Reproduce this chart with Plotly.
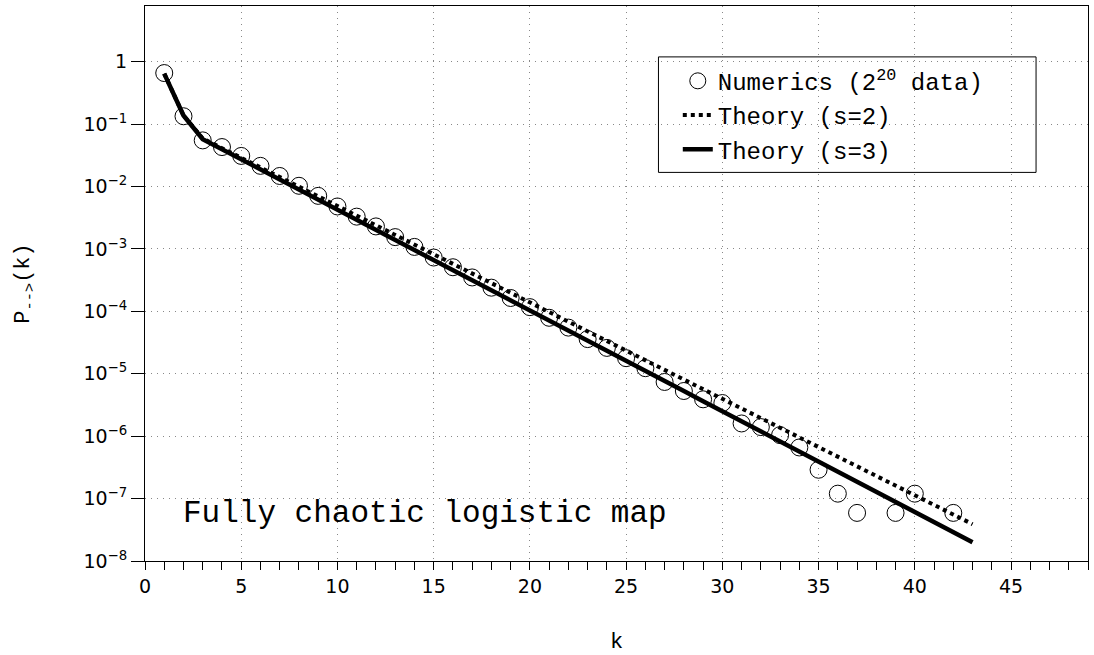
import plotly.graph_objects as go

# ---------------- data ----------------
k_num = [1, 2, 3, 4, 5, 6, 7, 8, 9, 10, 11, 12, 13, 14, 15, 16, 17, 18, 19, 20,
         21, 22, 23, 24, 25, 26, 27, 28, 29, 30, 31, 32, 33, 34, 35, 36, 37, 39, 40, 42]
p_num = [0.66, 0.134, 0.055, 0.043, 0.031, 0.0215, 0.0148, 0.0103, 0.0071, 0.0048,
         0.0033, 0.0023, 0.00155, 0.00108, 7.3e-4, 5.1e-4, 3.5e-4, 2.4e-4, 1.64e-4, 1.17e-4,
         7.9e-5, 5.5e-5, 3.6e-5, 2.6e-5, 1.78e-5, 1.23e-5, 7.4e-6, 5.3e-6, 3.9e-6, 3.4e-6,
         1.6e-6, 1.4e-6, 1.04e-6, 6.6e-7, 2.9e-7, 1.2e-7, 5.9e-8, 5.9e-8, 1.2e-7, 5.9e-8]

k_th = list(range(1, 44))
p_s2 = [0.646, 0.138, 0.0589, 0.04124, 0.02891, 0.02025, 0.01419, 0.00994, 0.00697, 0.00488,
        0.00342, 0.002396, 0.00168, 0.001176, 8.24e-4, 5.77e-4, 4.05e-4, 2.835e-4, 1.99e-4, 1.39e-4,
        9.75e-5, 6.83e-5, 4.79e-5, 3.35e-5, 2.35e-5, 1.646e-5, 1.153e-5, 8.08e-6, 5.66e-6, 3.97e-6,
        2.78e-6, 1.95e-6, 1.365e-6, 9.56e-7, 6.70e-7, 4.69e-7, 3.29e-7, 2.30e-7, 1.61e-7, 1.13e-7,
        7.92e-8, 5.55e-8, 3.89e-8]
p_s3 = [0.646, 0.138, 0.0575, 0.0397, 0.02735, 0.01886, 0.0130, 0.00896, 0.00618, 0.00426,
        0.00294, 0.00203, 0.001396, 9.63e-4, 6.64e-4, 4.58e-4, 3.16e-4, 2.18e-4, 1.50e-4, 1.034e-4,
        7.13e-5, 4.92e-5, 3.39e-5, 2.34e-5, 1.61e-5, 1.11e-5, 7.66e-6, 5.28e-6, 3.64e-6, 2.51e-6,
        1.73e-6, 1.19e-6, 8.22e-7, 5.67e-7, 3.91e-7, 2.69e-7, 1.86e-7, 1.28e-7, 8.83e-8, 6.09e-8,
        4.20e-8, 2.89e-8, 2.0e-8]

x_ticks = [0, 5, 10, 15, 20, 25, 30, 35, 40, 45]
y_tickvals = [1, 1e-1, 1e-2, 1e-3, 1e-4, 1e-5, 1e-6, 1e-7, 1e-8]
y_ticktext = ["1"] + ["10<sup>\u2212%d</sup>" % i for i in range(1, 9)]

MONO = "Liberation Mono"
SANS = "DejaVu Sans"

fig = go.Figure()
fig.add_trace(go.Scatter(
    x=k_num, y=p_num, mode="markers", name="Numerics (2<sup>20</sup> data)",
    marker=dict(symbol="circle-open", size=17, color="black", line=dict(width=1, color="black")),
))
fig.add_trace(go.Scatter(
    x=k_th, y=p_s2, mode="lines", name="Theory (s=2)",
    line=dict(color="black", width=4, dash="4px,4px"),
))
fig.add_trace(go.Scatter(
    x=k_th, y=p_s3, mode="lines", name="Theory (s=3)",
    line=dict(color="black", width=4.5),
))

fig.update_layout(
    width=1094, height=655,
    margin=dict(l=145, r=5, t=5, b=83),
    paper_bgcolor="white", plot_bgcolor="white",
    font=dict(family=MONO, size=22, color="black"),
    showlegend=True,
    legend=dict(
        x=0.565, y=0.905, xanchor="left", yanchor="top",
        bgcolor="rgba(0,0,0,0)", borderwidth=0,
        font=dict(family=MONO, size=24, color="black"),
        itemwidth=30, tracegroupgap=0,
    ),
    shapes=[dict(type="rect", xref="paper", yref="paper",
                 x0=(659 - 145) / 944, x1=(1037 - 145) / 944,
                 y0=(572 - 175) / 567, y1=(572 - 57) / 567,
                 line=dict(color="black", width=1), fillcolor="white", layer="below")],
    annotations=[dict(text="Fully chaotic logistic map", xref="paper", yref="paper",
                      x=36 / 944, y=(572 - 523) / 567, xanchor="left", yanchor="middle",
                      showarrow=False, font=dict(family=MONO, size=31, color="black"))],
)

fig.update_xaxes(
    range=[0, 49], tickvals=x_ticks, ticks="outside", ticklen=8, tickwidth=1, tickcolor="black",
    minor=dict(dtick=1, tick0=0, ticks="outside", ticklen=8, tickwidth=1, tickcolor="black", showgrid=False),
    showline=True, linecolor="black", linewidth=1, mirror=True,
    showgrid=True, gridcolor="#888888", griddash="1px,5px", gridwidth=1,
    zeroline=False,
    tickfont=dict(family=SANS, size=19, color="black"),
    title=dict(text="k", font=dict(family=MONO, size=22), standoff=38),
)
fig.update_yaxes(
    type="log", range=[-8, 0.894], tickvals=y_tickvals, ticktext=y_ticktext,
    ticks="outside", ticklen=13, tickwidth=1, tickcolor="black",
    showline=True, linecolor="black", linewidth=1, mirror=True,
    showgrid=True, gridcolor="#888888", griddash="1px,5px", gridwidth=1,
    zeroline=False,
    tickfont=dict(family=SANS, size=19, color="black"),
    title=dict(text="P<sub>--&gt;</sub>(k)", font=dict(family=MONO, size=22), standoff=47),
)

fig.write_html("out.html")
